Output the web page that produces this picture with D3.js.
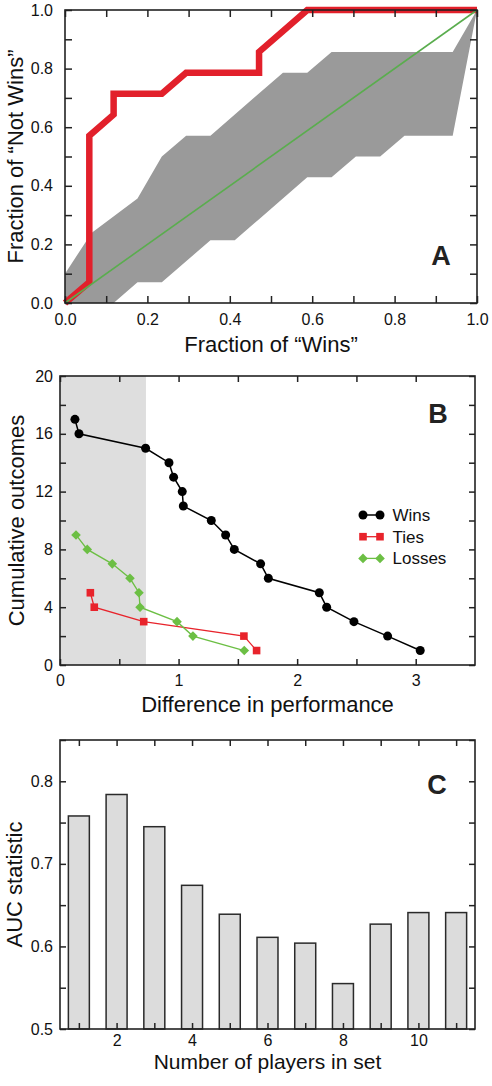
<!DOCTYPE html>
<html>
<head>
<meta charset="utf-8">
<script src="https://cdn.jsdelivr.net/npm/d3@7"></script>
<style>
  html, body { margin: 0; padding: 0; background: #fff; }
  svg { display: block; font-family: "Liberation Sans", Arial, Helvetica, sans-serif; }
</style>
</head>
<body>
<svg id="chart" width="492" height="1086"></svg>
<script>
// ---------- Panel A data ----------
const rocX = [0, 0.059, 0.059, 0.118, 0.118, 0.235, 0.294, 0.471, 0.471, 0.588, 1.0];
const rocY = [0, 0.071, 0.571, 0.643, 0.714, 0.714, 0.786, 0.786, 0.857, 1.0, 1.0];
const bandUpX = [0, 0.065, 0.176, 0.235, 0.294, 0.353, 0.529, 0.588, 0.647, 0.941, 1.0];
const bandUpY = [0.10, 0.24, 0.357, 0.5, 0.571, 0.571, 0.786, 0.786, 0.857, 0.857, 1.0];
const bandLoX = [0, 0.118, 0.176, 0.235, 0.353, 0.412, 0.471, 0.588, 0.647, 0.706, 0.765, 0.824, 0.941, 1.0];
const bandLoY = [0, 0, 0.071, 0.071, 0.214, 0.214, 0.286, 0.429, 0.429, 0.5, 0.5, 0.571, 0.571, 1.0];
const diagX = [0, 1];
const diagY = [0, 1];
const ticksA = [0, 0.1, 0.2, 0.3, 0.4, 0.5, 0.6, 0.7, 0.8, 0.9, 1.0];
const labelsA = [0, 0.2, 0.4, 0.6, 0.8, 1.0];

// ---------- Panel B data ----------
const winsX = [0.126, 0.16, 0.722, 0.919, 0.958, 1.031, 1.04, 1.276, 1.397, 1.47, 1.692, 1.757, 2.187, 2.249, 2.479, 2.763, 3.038];
const winsY = [17, 16, 15, 14, 13, 12, 11, 10, 9, 8, 7, 6, 5, 4, 3, 2, 1];
const tiesX = [0.256, 0.289, 0.706, 1.551, 1.658];
const tiesY = [5, 4, 3, 2, 1];
const lossesX = [0.135, 0.23, 0.441, 0.59, 0.666, 0.675, 0.987, 1.121, 1.554];
const lossesY = [9, 8, 7, 6, 5, 4, 3, 2, 1];
const shadeB = [0, 0.725];
const ticksBx = [0, 0.5, 1, 1.5, 2, 2.5, 3];
const labelsBx = [0, 1, 2, 3];
const ticksBy = [0, 2, 4, 6, 8, 10, 12, 14, 16, 18, 20];
const labelsBy = [0, 4, 8, 12, 16, 20];
const legendNames = ["Wins", "Ties", "Losses"];

// ---------- Panel C data ----------
const players = [1, 2, 3, 4, 5, 6, 7, 8, 9, 10, 11];
const aucValues = [0.758, 0.784, 0.745, 0.674, 0.639, 0.611, 0.604, 0.555, 0.627, 0.641, 0.641];
const ticksCy = [0.5, 0.55, 0.6, 0.65, 0.7, 0.75, 0.8, 0.85];
const labelsCy = [0.5, 0.6, 0.7, 0.8];
const labelsCx = [2, 4, 6, 8, 10];

const svg = d3.select("#chart");
const AXIS = "#222";
const TICKFONT = 16;
const TITLEFONT = 22;

function frame(g, xs, ys, opts) {
  const [x0, x1] = xs.range();
  const [y0, y1] = ys.range();
  const fmtX = d => opts.xLabels.some(v => Math.abs(v - d) < 1e-9) ? opts.xFmt(d) : "";
  const fmtY = d => opts.yLabels.some(v => Math.abs(v - d) < 1e-9) ? opts.yFmt(d) : "";
  const tl = opts.tick;
  const bottom = g.append("g").attr("transform", `translate(0,${y0})`)
    .call(d3.axisBottom(xs).tickValues(opts.xTicks).tickSizeInner(-tl).tickSizeOuter(0).tickPadding(opts.xPad).tickFormat(fmtX));
  const top = g.append("g").attr("transform", `translate(0,${y1})`)
    .call(d3.axisTop(xs).tickValues(opts.xTicks).tickSizeInner(-tl).tickSizeOuter(0).tickFormat(""));
  const left = g.append("g").attr("transform", `translate(${x0},0)`)
    .call(d3.axisLeft(ys).tickValues(opts.yTicks).tickSizeInner(-tl).tickSizeOuter(0).tickPadding(opts.yPad).tickFormat(fmtY));
  const right = g.append("g").attr("transform", `translate(${x1},0)`)
    .call(d3.axisRight(ys).tickValues(opts.yTicks).tickSizeInner(-tl).tickSizeOuter(0).tickFormat(""));
  [bottom, top, left, right].forEach(a => {
    a.select(".domain").remove();
    a.selectAll(".tick line").attr("stroke", AXIS).attr("stroke-width", 1.5);
    a.selectAll("text").attr("font-size", TICKFONT).attr("fill", "#111")
      .attr("font-family", '"Liberation Sans", Arial, Helvetica, sans-serif');
  });
  g.append("rect").attr("x", x0).attr("y", y1).attr("width", x1 - x0).attr("height", y0 - y1)
    .attr("fill", "none").attr("stroke", AXIS).attr("stroke-width", 1.6);
}

function titles(g, xs, ys, xt, xtY, xtSize, yt, ytX, letter, lx, ly) {
  const [x0, x1] = xs.range();
  const [y0, y1] = ys.range();
  g.append("text").attr("x", (x0 + x1) / 2).attr("y", xtY).attr("text-anchor", "middle")
    .attr("font-size", xtSize).attr("fill", "#111").text(xt);
  g.append("text").attr("transform", `translate(${ytX},${(y0 + y1) / 2}) rotate(-90)`)
    .attr("text-anchor", "middle").attr("font-size", TITLEFONT).attr("fill", "#111").text(yt);
  g.append("text").attr("x", lx).attr("y", ly).attr("text-anchor", "middle")
    .attr("font-size", 27).attr("font-weight", "bold").attr("fill", "#222").text(letter);
}

// ================= Panel A =================
{
  const g = svg.append("g");
  const x = d3.scaleLinear().domain([0, 1]).range([65, 477]);
  const y = d3.scaleLinear().domain([0, 1]).range([303, 10]);
  const up = bandUpX.map((v, i) => [v, bandUpY[i]]);
  const lo = bandLoX.map((v, i) => [v, bandLoY[i]]);
  const poly = up.concat(lo.slice().reverse());
  const line = d3.line().x(d => x(d[0])).y(d => y(d[1]));
  g.append("path").attr("d", line(poly) + "Z").attr("fill", "#9a9a9a").attr("stroke", "none");
  g.append("path").attr("d", line(rocX.map((v, i) => [v, rocY[i]])))
    .attr("fill", "none").attr("stroke", "#e2202b").attr("stroke-width", 6.5).attr("stroke-linejoin", "miter");
  g.append("path").attr("d", line(diagX.map((v, i) => [v, diagY[i]])))
    .attr("fill", "none").attr("stroke", "#5aad4e").attr("stroke-width", 1.6);
  frame(g, x, y, {
    xTicks: ticksA, yTicks: ticksA, xLabels: labelsA, yLabels: labelsA,
    xFmt: d3.format(".1f"), yFmt: d3.format(".1f"), tick: 7, xPad: 11, yPad: 12
  });
  titles(g, x, y, "Fraction of \u201cWins\u201d", 352, TITLEFONT, "Fraction of \u201cNot Wins\u201d", 23, "A", 441, 265);
}

// ================= Panel B =================
{
  const g = svg.append("g");
  const x = d3.scaleLinear().domain([0, 3.5]).range([60, 475]);
  const y = d3.scaleLinear().domain([0, 20]).range([665, 376]);
  g.append("rect").attr("x", x(shadeB[0])).attr("y", y(20)).attr("width", x(shadeB[1]) - x(shadeB[0]))
    .attr("height", y(0) - y(20)).attr("fill", "#dedede");
  const line = d3.line().x(d => x(d[0])).y(d => y(d[1]));
  const series = [
    { name: legendNames[0], xs: winsX, ys: winsY, color: "#000", lw: 1.5, shape: "circle" },
    { name: legendNames[1], xs: tiesX, ys: tiesY, color: "#e8232b", lw: 1.3, shape: "square" },
    { name: legendNames[2], xs: lossesX, ys: lossesY, color: "#6cbf44", lw: 1.3, shape: "diamond" }
  ];
  function marker(sel, shape, color, cx, cy) {
    if (shape === "circle") {
      sel.append("circle").attr("cx", cx).attr("cy", cy).attr("r", 4.5).attr("fill", color);
    } else if (shape === "square") {
      sel.append("rect").attr("x", cx - 3.8).attr("y", cy - 3.8).attr("width", 7.6).attr("height", 7.6).attr("fill", color);
    } else {
      const r = 4.8;
      sel.append("path").attr("d", `M${cx},${cy - r}L${cx + r},${cy}L${cx},${cy + r}L${cx - r},${cy}Z`).attr("fill", color);
    }
  }
  series.forEach(s => {
    const pts = s.xs.map((v, i) => [v, s.ys[i]]);
    g.append("path").attr("d", line(pts)).attr("fill", "none").attr("stroke", s.color).attr("stroke-width", s.lw);
    pts.forEach(p => marker(g, s.shape, s.color, x(p[0]), y(p[1])));
  });
  // legend
  series.forEach((s, i) => {
    const ly = 515 + i * 21.7;
    g.append("line").attr("x1", 363).attr("x2", 380).attr("y1", ly).attr("y2", ly)
      .attr("stroke", s.color).attr("stroke-width", s.lw);
    marker(g, s.shape, s.color, 363, ly);
    marker(g, s.shape, s.color, 380, ly);
    g.append("text").attr("x", 392.5).attr("y", ly + 6).attr("font-size", 17).attr("fill", "#111").text(s.name);
  });
  frame(g, x, y, {
    xTicks: ticksBx, yTicks: ticksBy, xLabels: labelsBx, yLabels: labelsBy,
    xFmt: d3.format("d"), yFmt: d3.format("d"), tick: 6, xPad: 10, yPad: 7
  });
  titles(g, x, y, "Difference in performance", 712, TITLEFONT, "Cumulative outcomes", 24, "B", 438, 423);
}

// ================= Panel C =================
{
  const g = svg.append("g");
  const x = d3.scaleLinear().domain([0.5, 11.5]).range([60, 475]);
  const y = d3.scaleLinear().domain([0.5, 0.85]).range([1029, 740]);
  const bw = x(1.056) - x(0.5);
  g.selectAll("rect.bar").data(players).enter().append("rect").attr("class", "bar")
    .attr("x", d => x(d) - bw / 2).attr("width", bw)
    .attr("y", (d, i) => y(aucValues[i])).attr("height", (d, i) => y(0.5) - y(aucValues[i]))
    .attr("fill", "#dcdcdc").attr("stroke", "#2a2a2a").attr("stroke-width", 1.5);
  frame(g, x, y, {
    xTicks: players, yTicks: ticksCy, xLabels: labelsCx, yLabels: labelsCy,
    xFmt: d3.format("d"), yFmt: d3.format(".1f"), tick: 6, xPad: 6, yPad: 7
  });
  titles(g, x, y, "Number of players in set", 1069, 21, "AUC statistic", 22, "C", 437, 794);
}
</script>
</body>
</html>
